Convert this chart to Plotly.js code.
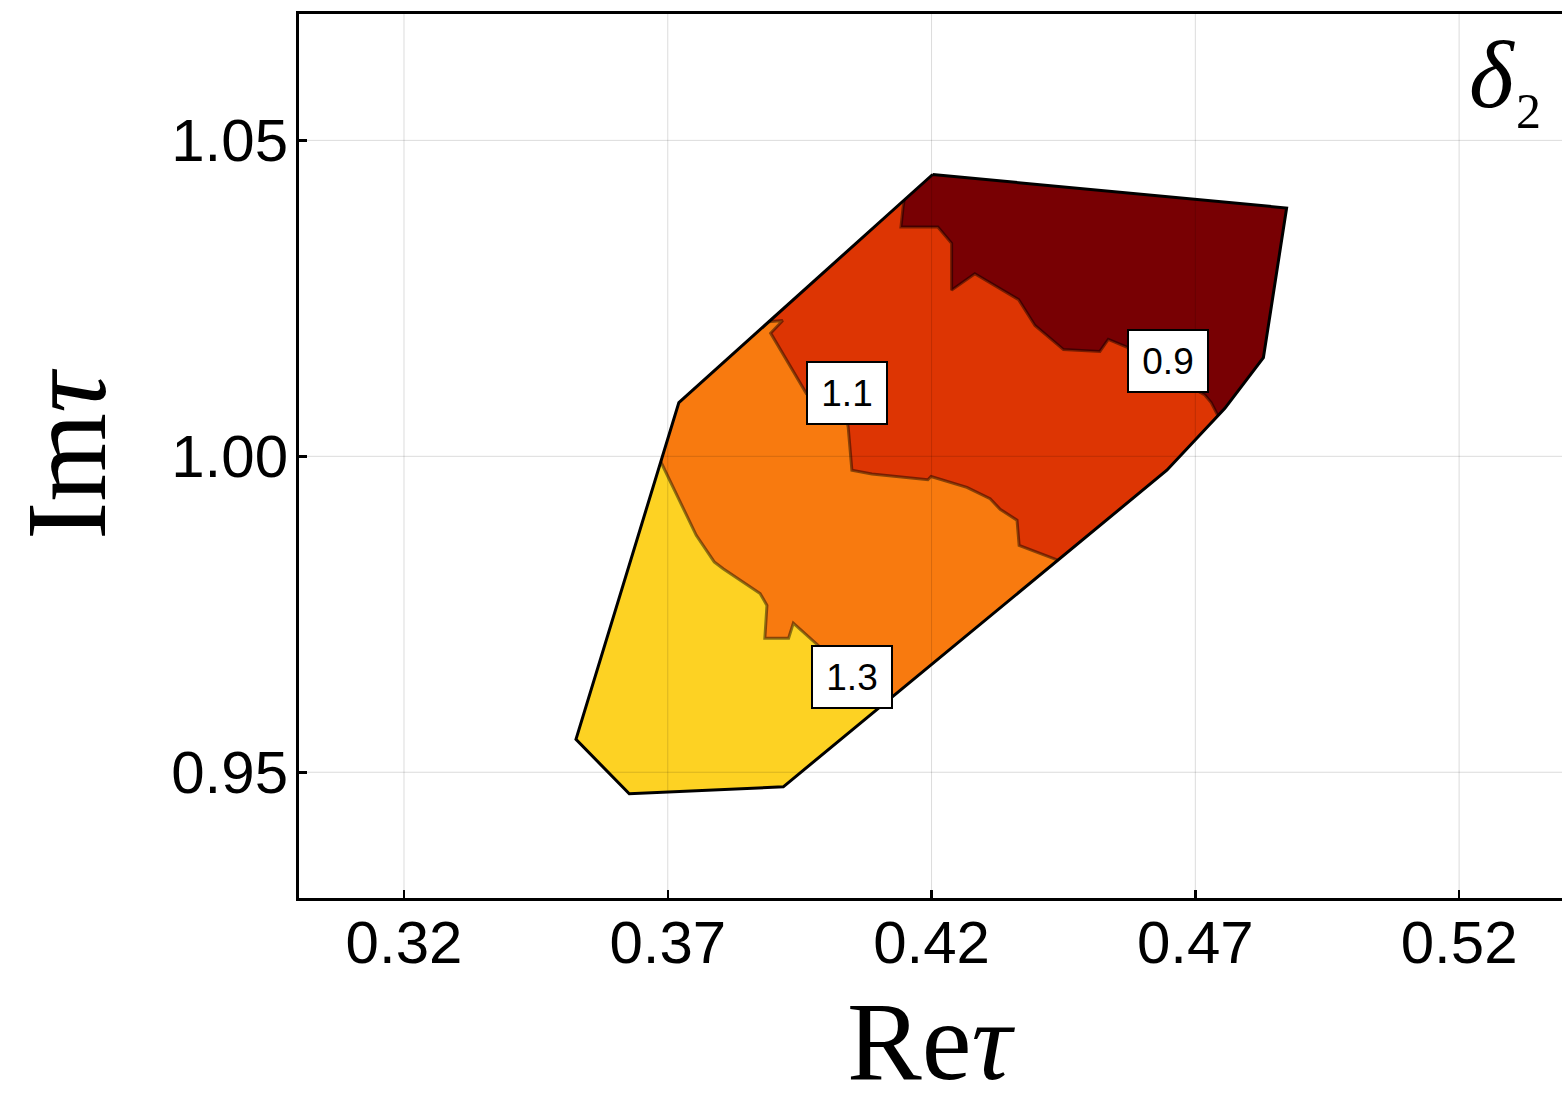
<!DOCTYPE html>
<html>
<head>
<meta charset="utf-8">
<script src="https://cdn.plot.ly/plotly-3.0.1.min.js"></script>
<style>
  html, body { margin: 0; padding: 0; background: #ffffff; }
  #chart { width: 1562px; height: 1106px; }
</style>
</head>
<body>
<div id="chart"></div>
<script>
// Region of the (Re tau, Im tau) plane, coloured by the value of delta_2.

// Outer boundary of the allowed region (clockwise from the top vertex)
const hullX = [0.4202, 0.4873, 0.4829, 0.4756, 0.4646, 0.3919, 0.3627, 0.3526, 0.3721];
const hullY = [1.0446, 1.0393, 1.0156, 1.0076, 0.9978, 0.9477, 0.9466, 0.9552, 1.0085];

// Contour lines, each running from one side of the boundary to the other
const c09X = [0.4148, 0.4146, 0.4142, 0.4212, 0.4238, 0.4238, 0.4282, 0.4365, 0.4396, 0.4450, 0.4519, 0.4535, 0.4570, 0.4652, 0.4718, 0.4730, 0.4743];
const c09Y = [1.0405, 1.0394, 1.0363, 1.0363, 1.0337, 1.0263, 1.0289, 1.0248, 1.0207, 1.0169, 1.0166, 1.0185, 1.0173, 1.0128, 1.0097, 1.0085, 1.0064];

const c11X = [0.3891, 0.3918, 0.3895, 0.3963, 0.4036, 0.4042, 0.4049, 0.4087, 0.4193, 0.4199, 0.4267, 0.4311, 0.4330, 0.4362, 0.4366, 0.4438];
const c11Y = [1.0213, 1.0215, 1.0195, 1.0099, 1.0073, 1.0046, 0.9978, 0.9972, 0.9963, 0.9968, 0.9951, 0.9933, 0.9916, 0.9899, 0.9859, 0.9836];

const c13X = [0.3687, 0.3754, 0.3788, 0.3805, 0.3875, 0.3888, 0.3884, 0.3929, 0.3938, 0.3979, 0.4042, 0.4102];
const c13Y = [0.9991, 0.9875, 0.9833, 0.9822, 0.9783, 0.9764, 0.9712, 0.9712, 0.9736, 0.9705, 0.9658, 0.9603];

// Contour levels and where their labels sit
const levels = [0.9, 1.1, 1.3];
const labelX = [0.4649, 0.4040, 0.4050];
const labelY = [1.0151, 1.0100, 0.9651];

// Axis ticks
const xTicks = [0.32, 0.37, 0.42, 0.47, 0.52];
const xTickText = ['0.32', '0.37', '0.42', '0.47', '0.52'];
const yTicks = [0.95, 1.00, 1.05];
const yTickText = ['0.95', '1.00', '1.05'];

// Fill colours, from low to high delta_2
const colDark = '#780003';
const colRed = '#DD3503';
const colOrange = '#F87A0F';
const colYellow = '#FDD223';

// Polygon = contour line followed by the boundary vertices on one side of it
function region(cx, cy, hullIdx) {
  const xs = cx.slice(), ys = cy.slice();
  hullIdx.forEach(i => { xs.push(hullX[i]); ys.push(hullY[i]); });
  xs.push(cx[0]); ys.push(cy[0]);
  return { xs, ys };
}

function fillTrace(xs, ys, color) {
  return {
    type: 'scatter', mode: 'lines', x: xs, y: ys,
    fill: 'toself', fillcolor: color,
    line: { width: 0, color: 'rgba(0,0,0,0)' },
    hoverinfo: 'skip', showlegend: false
  };
}

function lineTrace(xs, ys, color, width) {
  return {
    type: 'scatter', mode: 'lines', x: xs, y: ys,
    line: { width: width, color: color },
    hoverinfo: 'skip', showlegend: false
  };
}

const redR = region(c11X, c11Y, [4, 3, 2, 1, 0]);
const darkR = region(c09X, c09Y, [3, 2, 1, 0]);
const yellowR = region(c13X, c13Y, [5, 6, 7]);

const hullClosedX = hullX.concat([hullX[0]]);
const hullClosedY = hullY.concat([hullY[0]]);

const contourColor = 'rgba(0,0,0,0.45)';

const data = [
  fillTrace(hullClosedX, hullClosedY, colOrange),
  fillTrace(redR.xs, redR.ys, colRed),
  fillTrace(darkR.xs, darkR.ys, colDark),
  fillTrace(yellowR.xs, yellowR.ys, colYellow),
  lineTrace(c09X, c09Y, contourColor, 3),
  lineTrace(c11X, c11Y, contourColor, 3),
  lineTrace(c13X, c13Y, contourColor, 3),
  lineTrace(hullClosedX, hullClosedY, '#000000', 3)
];

// Grid lines drawn over the filled regions
const gridColor = 'rgba(0,0,0,0.14)';
const shapes = [];
xTicks.forEach(v => shapes.push({
  type: 'line', layer: 'above', xref: 'x', yref: 'paper',
  x0: v, x1: v, y0: 0, y1: 1, line: { color: gridColor, width: 1 }
}));
yTicks.forEach(v => shapes.push({
  type: 'line', layer: 'above', xref: 'paper', yref: 'y',
  x0: 0, x1: 1, y0: v, y1: v, line: { color: gridColor, width: 1 }
}));

const serif = 'Liberation Serif, Times New Roman, serif';

const annotations = levels.map((lv, i) => ({
  x: labelX[i], y: labelY[i], xref: 'x', yref: 'y',
  text: String(lv), showarrow: false,
  font: { family: 'Liberation Sans, Arial, sans-serif', size: 37, color: '#000000' },
  bgcolor: '#ffffff', bordercolor: '#000000', borderwidth: 2, borderpad: 2,
  width: 74, height: 56, xanchor: 'center', yanchor: 'middle', align: 'center', valign: 'middle'
}));

// Panel label delta_2
annotations.push({
  x: 0.9446, y: 0.932, xref: 'paper', yref: 'paper',
  text: '<i>δ</i>', showarrow: false,
  font: { family: serif, size: 96, color: '#000000' },
  xanchor: 'center', yanchor: 'middle'
});
annotations.push({
  x: 0.9735, y: 0.8906, xref: 'paper', yref: 'paper',
  text: '2', showarrow: false,
  font: { family: serif, size: 50, color: '#000000' },
  xanchor: 'center', yanchor: 'middle'
});

// Horizontal axis title, kept inside the bottom edge of the page
annotations.push({
  x: 0.5, y: 0, xref: 'paper', yref: 'paper',
  text: 'Re<i>τ</i>', showarrow: false,
  font: { family: serif, size: 112, color: '#000000' },
  xanchor: 'center', yanchor: 'bottom', yshift: -206, borderpad: 0
});

const tickFont = { family: 'Liberation Sans, Arial, sans-serif', size: 60, color: '#000000' };
const titleFont = { family: serif, size: 114, color: '#000000' };

const layout = {
  width: 1562, height: 1106,
  margin: { l: 299, r: 0, t: 14, b: 208, pad: 0 },
  paper_bgcolor: '#ffffff', plot_bgcolor: '#ffffff',
  showlegend: false,
  xaxis: {
    range: [0.3001, 0.5395],
    tickmode: 'array', tickvals: xTicks, ticktext: xTickText,
    ticks: 'inside', ticklen: 8, tickwidth: 2.5, tickcolor: '#000000',
    ticklabelstandoff: -10,
    showline: true, linewidth: 3, linecolor: '#000000', mirror: true,
    showgrid: false, zeroline: false,
    tickfont: tickFont
  },
  yaxis: {
    range: [0.9301, 1.07],
    tickmode: 'array', tickvals: yTicks, ticktext: yTickText,
    ticks: 'inside', ticklen: 8, tickwidth: 2.5, tickcolor: '#000000',
    ticklabelstandoff: -4,
    showline: true, linewidth: 3, linecolor: '#000000', mirror: false,
    showgrid: false, zeroline: false,
    tickfont: tickFont,
    title: { text: 'Im<i>τ</i>', font: titleFont, standoff: 28 }
  },
  shapes: shapes,
  annotations: annotations
};

Plotly.newPlot('chart', data, layout, { displayModeBar: false, staticPlot: true });
</script>
</body>
</html>
